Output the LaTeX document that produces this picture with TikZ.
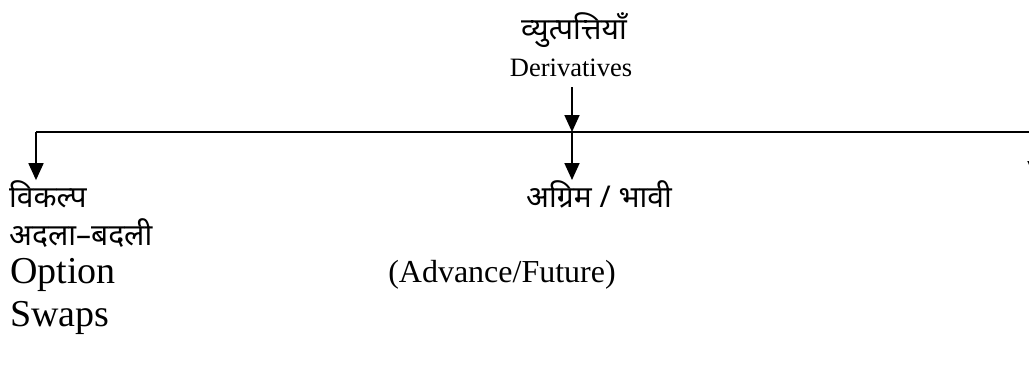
\documentclass[tikz,border=0pt]{standalone}
\usepackage{fontspec}
\setmainfont{Liberation Serif}
\newfontfamily\hindifont[Script=Devanagari]{Noto Sans}
\usetikzlibrary{arrows.meta, positioning}
\tikzstyle{hindi} = [font=\hindifont\fontsize{30}{34}\selectfont, inner sep=0pt]
\tikzstyle{eng}   = [font=\fontsize{38}{42}\selectfont, inner sep=0pt]
\tikzstyle{line}  = [line width=1.8pt]
\tikzstyle{arrow} = [line width=1.8pt, -{Triangle[width=15pt,length=17pt]}]

\begin{document}
\begin{tikzpicture}[x=1pt, y=-1pt]
  \useasboundingbox (0,0) rectangle (1029,370);
  % Root
  \node[hindi] (title) at (574,30) {व्युत्पत्तियाँ};
  \node[font=\fontsize{26.5}{30}\selectfont, inner sep=0pt] (deriv) at (571,68) {Derivatives};

  % Branch points
  \coordinate (hub) at (572,132);
  \coordinate (lcorner) at (36,132);
  \coordinate (rcorner) at (1035,132);
  \coordinate (rtip) at (1035,178);

  % Left branch
  \node[hindi, anchor=west] (vikalp) at (9,194) {विकल्प};
  \node[hindi, anchor=west] (adla) at (9,233) {अदला–बदली};
  \node[eng, anchor=west] (option) at (10,275) {Option};
  \node[eng, anchor=west] (swaps) at (10,318) {Swaps};

  % Middle branch
  \node[hindi] (agrim) at (599,194) {अग्रिम / भावी};
  \node[eng, font=\fontsize{32}{36}\selectfont] (advance) at (502,275) {(Advance/Future)};

  % Connectors
  \draw[arrow, shorten <=10pt] (deriv.south -| hub) -- (hub);
  \draw[line] (lcorner) -- (rcorner);
  \draw[arrow] (lcorner) -- (lcorner |- vikalp.north);
  \draw[arrow] (hub) -- (hub |- agrim.north);
  \draw[arrow] (rcorner) -- (rtip);
\end{tikzpicture}
\end{document}
